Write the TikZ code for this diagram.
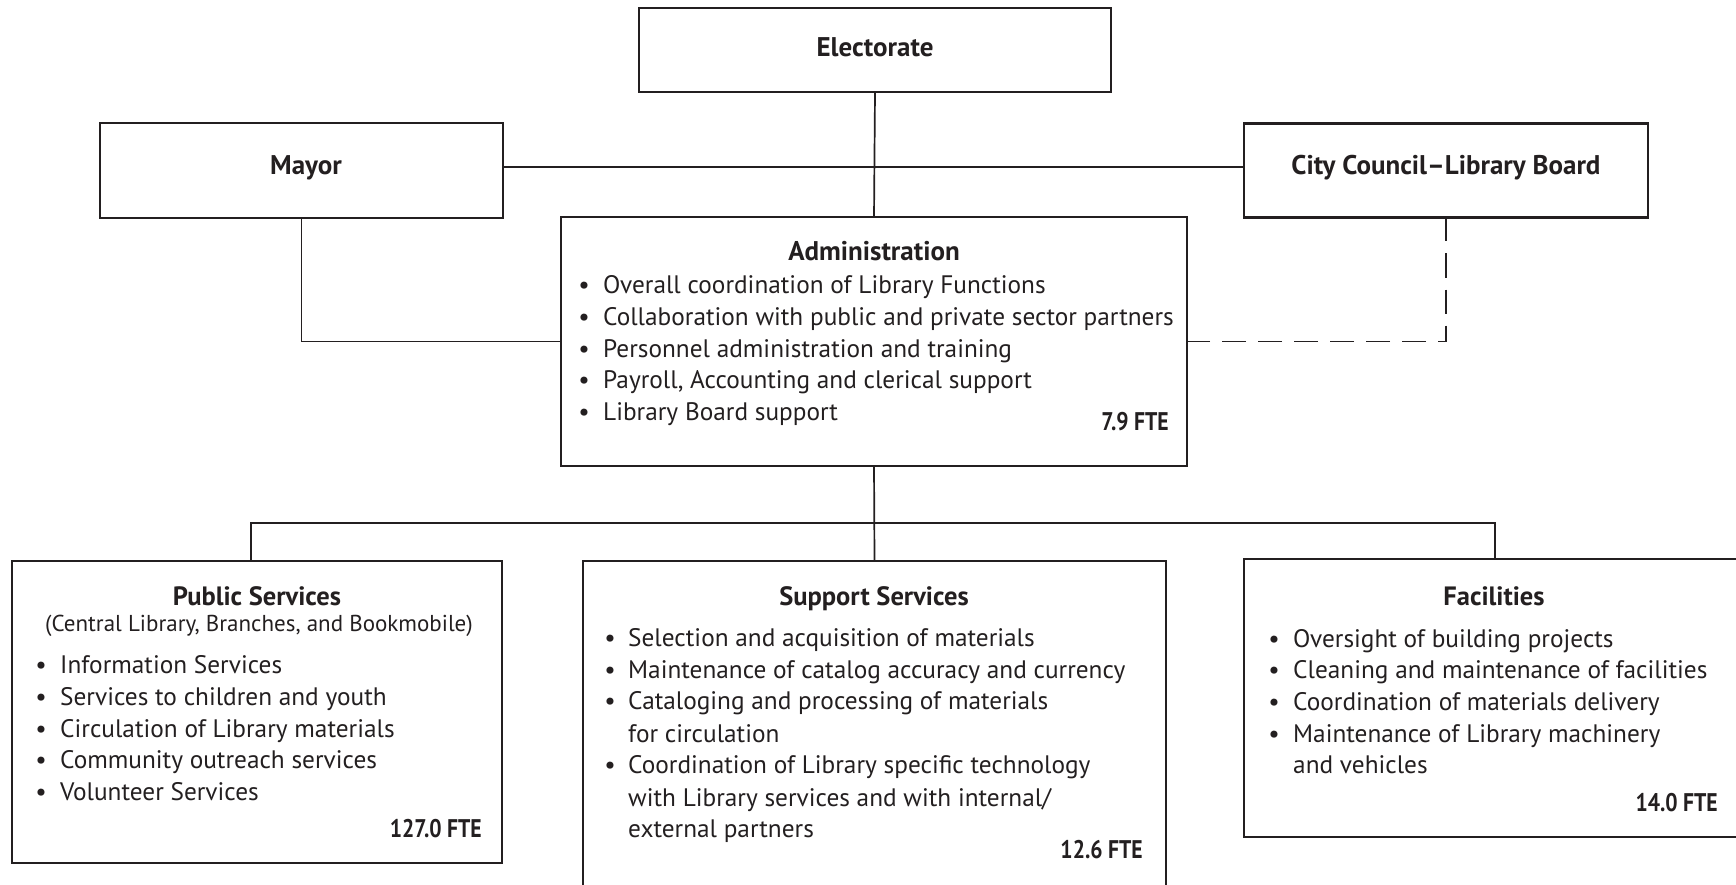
\documentclass[tikz,border=0pt]{standalone}
\usepackage{fontspec}
\setmainfont{PT Sans}
\newfontfamily\condfam[FakeStretch=0.85]{PT Sans}
\definecolor{ink}{HTML}{231F20}
\newcommand\hfnt{\fontsize{27}{32}\selectfont\bfseries}
\newcommand\ffnt{\condfam\fontsize{25.5}{30}\selectfont\bfseries}
\newcommand\sfnt{\fontsize{26.5}{32}\selectfont\bfseries}
\newcommand\ifnt{\fontsize{25.3}{30}\selectfont}
\newcommand\subfnt{\fontsize{23}{28}\selectfont}
\begin{document}
\begin{tikzpicture}[x=1pt,y=-1pt,
  obox/.style={draw=ink, line width=2.6pt, inner sep=0pt, outer sep=0pt},
  cline/.style={draw=ink, line width=1.7pt},
  dline/.style={cline, dash pattern=on 24pt off 12pt},
  htxt/.style={inner sep=0pt, anchor=base, text=ink, font=\hfnt},
  stxt/.style={inner sep=0pt, anchor=base, text=ink, font=\sfnt},
  itxt/.style={inner sep=0pt, anchor=base west, text=ink, font=\ifnt},
  btxt/.style={inner sep=0pt, anchor=base, text=ink, font=\ifnt},
  ftxt/.style={inner sep=0pt, anchor=base east, text=ink, font=\ffnt},
  subtxt/.style={inner sep=0pt, anchor=base, text=ink, font=\subfnt}]
\useasboundingbox (0,0) rectangle (1736,885);

% boxes
\node[obox, minimum width=472pt, minimum height=84pt] (elect) at (875,50) {};
\node[obox, minimum width=403pt, minimum height=95pt] (mayor) at (301.5,170.5) {};
\node[obox, minimum width=404pt, minimum height=94pt] (council) at (1446,170.5) {};
\node[obox, minimum width=626pt, minimum height=249pt] (admin) at (874,341.5) {};
\node[obox, minimum width=490pt, minimum height=302pt] (public) at (257,712) {};
\node[obox, minimum width=583pt, minimum height=333pt] (support) at (874.5,727.5) {};
\node[obox, minimum width=500pt, minimum height=278pt] (facil) at (1494,698) {};

% connectors
\coordinate (hy) at (0,167);
\coordinate (busL) at (251,523);
\coordinate (busR) at (1495,523);
\draw[cline] (elect.south) -- (admin.north);
\draw[cline] (mayor.east |- hy) -- (council.west |- hy);
\draw[cline] (mayor.south) |- (admin.west);
\draw[dline] (council.south) |- (admin.east);
\draw[cline] (admin.south) -- (support.north);
\draw[cline] (busL |- public.north) -- (busL) -- (busR) -- (busR |- facil.north);

% top labels
\node[htxt] (telect) at (875,57) {Electorate};
\node[htxt] (tmayor) at (306,175) {Mayor};
\node[htxt] (tcouncil) at (1446,175) {City Council–Library Board};

% administration
\node[htxt] (tadmin) at (874,260) {Administration};
\foreach \y/\t [count=\i] in {293/Overall coordination of Library Functions,
  325/Collaboration with public and private sector partners,
  357/Personnel administration and training,
  388/{Payroll, Accounting and clerical support},
  420/Library Board support}{
  \node[btxt] (ab\i) at (584,\y) {•};
  \node[itxt] (at\i) at (603,\y) {\t};
}
\node[ftxt] (afte) at (1169,430) {7.9 FTE};

% public services
\node[stxt] (tpub) at (257,605) {Public Services};
\node[subtxt] (tpubsub) at (259,631) {(Central Library, Branches, and Bookmobile)};
\foreach \y/\t [count=\i] in {673/Information Services,
  705/Services to children and youth,
  737/Circulation of Library materials,
  768/Community outreach services,
  800/Volunteer Services}{
  \node[btxt] (pb\i) at (41,\y) {•};
  \node[itxt] (pt\i) at (60,\y) {\t};
}
\node[ftxt] (pfte) at (482,837) {127.0 FTE};

% support services
\node[stxt] (tsup) at (874,605) {Support Services};
\node[btxt] (sb1) at (610,646) {•};
\node[itxt] (st1) at (628,646) {Selection and acquisition of materials};
\node[btxt] (sb2) at (610,678) {•};
\node[itxt] (st2) at (628,678) {Maintenance of catalog accuracy and currency};
\node[btxt] (sb3) at (610,709) {•};
\node[itxt] (st3) at (628,709) {Cataloging and processing of materials};
\node[itxt] (st4) at (628,742) {for circulation};
\node[btxt] (sb5) at (610,773) {•};
\node[itxt] (st5) at (628,773) {Coordination of Library specific technology};
\node[itxt] (st6) at (628,806) {with Library services and with internal/};
\node[itxt] (st7) at (628,837) {external partners};
\node[ftxt] (sfte) at (1143,858) {12.6 FTE};

% facilities
\node[stxt] (tfac) at (1494,605) {Facilities};
\node[btxt] (fb1) at (1274,647) {•};
\node[itxt] (ft1) at (1293,647) {Oversight of building projects};
\node[btxt] (fb2) at (1274,678) {•};
\node[itxt] (ft2) at (1293,678) {Cleaning and maintenance of facilities};
\node[btxt] (fb3) at (1274,710) {•};
\node[itxt] (ft3) at (1293,710) {Coordination of materials delivery};
\node[btxt] (fb4) at (1274,742) {•};
\node[itxt] (ft4) at (1293,742) {Maintenance of Library machinery};
\node[itxt] (ft5) at (1293,773) {and vehicles};
\node[ftxt] (ffte) at (1718,811) {14.0 FTE};
\end{tikzpicture}
\end{document}
